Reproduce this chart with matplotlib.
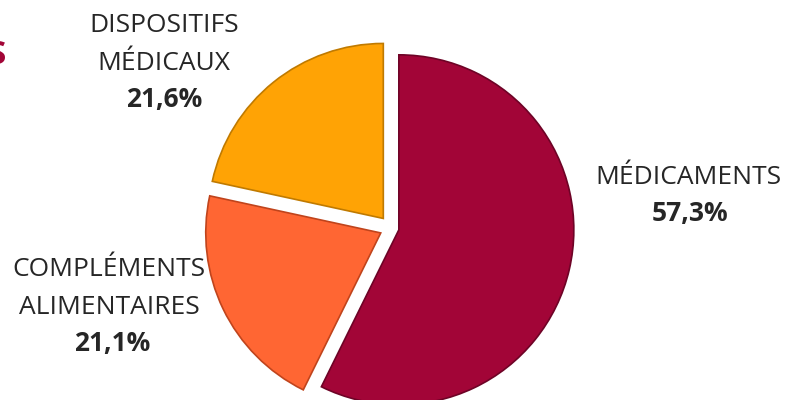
import matplotlib.pyplot as plt
import matplotlib

plt.rcParams['font.family'] = ['Open Sans', 'DejaVu Sans']

# parts of the total, in %
labels = ['MÉDICAMENTS', 'COMPLÉMENTS\nALIMENTAIRES', 'DISPOSITIFS\nMÉDICAUX']
values = [57.3, 21.1, 21.6]
pct_labels = ['57,3%', '21,1%', '21,6%']
colors = ['#A20537', '#FF6633', '#FFA305']
edges = ['#6E0326', '#C0441C', '#C07A00']

W, H = 787, 400
fig = plt.figure(figsize=(W / 100, H / 100), dpi=100)
ax = fig.add_axes([0, 0, 1, 1])

R = 175.0
cx, cy = 391, 228  # pie centre, pixels from top-left
wedges, _ = ax.pie(values, colors=colors, startangle=90, counterclock=False,
                   explode=[0.046, 0.065, 0.07], radius=1,
                   wedgeprops=dict(linewidth=1.2))
for w, ec in zip(wedges, edges):
    w.set_edgecolor(ec)

ax.set_xlim(-cx / R, (W - cx) / R)
ax.set_ylim(-(H - cy) / R, cy / R)
ax.set_aspect('equal')
ax.axis('off')

txt = '#262626'
fs = 19
def put(x, y, s, **kw):
    fig.text(x / W, 1 - y / H, s, ha='center', va='center', color=txt,
             fontsize=fs, **kw)

# label positions in pixels
put(688, 177, 'MÉDICAMENTS')
put(690, 213, pct_labels[0], fontweight='bold')
put(109, 270, 'COMPLÉMENTS')
put(109, 307, 'ALIMENTAIRES')
put(112, 343, pct_labels[1], fontweight='bold')
put(164, 26, 'DISPOSITIFS')
put(164, 63, 'MÉDICAUX')
put(164, 100, pct_labels[2], fontweight='bold')

# cut-off title letter at the left edge
fig.text(6 / W, 1 - 56 / H, 'S', ha='right', va='center', color='#A20537',
         fontsize=24, fontweight='bold')

fig.savefig('out.png', dpi=100)
